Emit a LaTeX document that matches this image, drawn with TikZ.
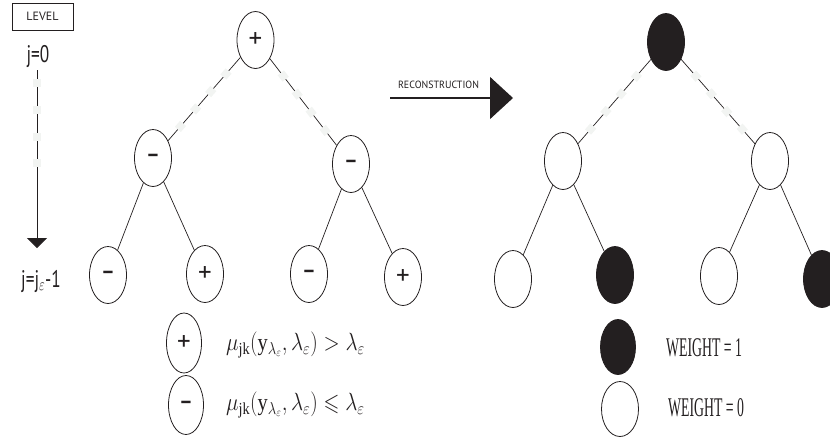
\documentclass[tikz,border=0pt]{standalone}
\usepackage{fontspec}
\usepackage{amssymb}
\usepackage{graphicx}
\setmainfont{Liberation Serif}
\setsansfont{PT Sans}
\usetikzlibrary{shapes.geometric,arrows.meta,decorations.markings}
\definecolor{ink}{HTML}{231F20}
\definecolor{gapc}{HTML}{F2F4F2}
\newcommand{\pl}{{\fontsize{27}{27}\selectfont +}}
\newcommand{\mi}{{\fontsize{21}{21}\selectfont\bfseries --}}
\begin{document}
\begin{tikzpicture}[x=1pt,y=-1pt,
  tn/.style={ellipse,draw=ink,line width=0.8pt,minimum width=37pt,minimum height=57pt,inner sep=0pt,font=\sffamily,text=ink},
  bn/.style={tn,fill=ink},
  wn/.style={tn,fill=white},
  solidedge/.style={draw=ink,line width=0.7pt},
  gapsq/.style={fill=gapc},
  gapedge/.style={solidedge,postaction={decorate},decoration={markings,
    mark=at position 0.2 with {\fill[gapsq] (-4pt,-4pt) rectangle (4pt,4pt);},
    mark=at position 0.41 with {\fill[gapsq] (-4pt,-4pt) rectangle (4pt,4pt);},
    mark=at position 0.62 with {\fill[gapsq] (-4pt,-4pt) rectangle (4pt,4pt);},
    mark=at position 0.83 with {\fill[gapsq] (-4pt,-4pt) rectangle (4pt,4pt);}}},
  lbl/.style={font=\sffamily\fontsize{24}{24}\selectfont,text=ink,inner sep=0pt},
  formula/.style={anchor=west,inner sep=0pt,text=ink,font=\fontsize{24}{24}\selectfont},
  wtxt/.style={anchor=west,inner sep=0pt,text=ink,font=\fontsize{27}{27}\selectfont}
]
\useasboundingbox (0,0) rectangle (830,437);

% level indicator
\node[draw=ink,line width=0.6pt,minimum width=61pt,minimum height=27pt,inner sep=0pt,
      font=\sffamily\fontsize{12}{12}\selectfont,text=ink] (lvl) at (42.5,16.5) {LEVEL};
\node[lbl] (j0) at (38,56) {\scalebox{0.72}[1]{j=0}};
\node[lbl] (jend) at (41,281) {\scalebox{0.72}[1]{j=j$_{\varepsilon}$-1}};
\coordinate (vtop) at (37,70);
\coordinate (vend) at (37,248);
\draw[ink,line width=0.8pt,-{Triangle[width=20pt,length=10pt]}] (vtop) -- (vend);
\foreach \yy in {83,110,137,163} \fill[gapsq] (33,\yy-4) rectangle (41,\yy+4);

% left tree
\node[tn] (L0) at (255.5,40) {\pl};
\node[tn] (L1a) at (153,158) {\mi};
\node[tn] (L1b) at (351,164) {\mi};
\node[tn] (L2a) at (108,275) {\mi};
\node[tn] (L2b) at (205,274) {\pl};
\node[tn] (L2c) at (309,274) {\mi};
\node[tn] (L2d) at (403,277) {\pl};
\draw[gapedge] (L0) -- (L1a);
\draw[gapedge] (L0) -- (L1b);
\draw[solidedge] (L1a) -- (L2a);
\draw[solidedge] (L1a) -- (L2b);
\draw[solidedge] (L1b) -- (L2c);
\draw[solidedge] (L1b) -- (L2d);

% reconstruction arrow
\coordinate (ra) at (390,98);
\coordinate (rb) at (513,98);
\draw[ink,line width=1.3pt,-{Triangle[width=42pt,length=23pt]}] (ra) -- (rb);
\node[font=\sffamily\fontsize{10.5}{10.5}\selectfont,text=ink,inner sep=0pt] (rl) at (438.5,84.5) {\scalebox{0.95}[1]{RECONSTRUCTION}};

% right tree
\node[bn] (R0) at (666,42) {};
\node[wn] (R1a) at (563,161) {};
\node[wn] (R1b) at (770,161) {};
\node[wn] (R2a) at (513,279) {};
\node[bn] (R2b) at (615,275) {};
\node[wn] (R2c) at (719,276) {};
\node[bn] (R2d) at (822,279) {};
\draw[gapedge] (R0) -- (R1a);
\draw[gapedge] (R0) -- (R1b);
\draw[solidedge] (R1a) -- (R2a);
\draw[solidedge] (R1a) -- (R2b);
\draw[solidedge] (R1b) -- (R2c);
\draw[solidedge] (R1b) -- (R2d);

% legend left
\node[tn,minimum width=35pt,minimum height=60pt] (P) at (184,343) {\pl};
\node[tn,minimum width=35pt,minimum height=59pt] (M) at (186,405) {\mi};
\node[formula] (f1) at (226,345) {\scalebox{0.85}[1]{$\mu_{\mathrm{jk}}(\mathrm{y}_{\lambda_\varepsilon},\lambda_\varepsilon) > \lambda_\varepsilon$}};
\node[formula] (f2) at (226,405) {\scalebox{0.85}[1]{$\mu_{\mathrm{jk}}(\mathrm{y}_{\lambda_\varepsilon},\lambda_\varepsilon) \leqslant \lambda_\varepsilon$}};

% legend right
\node[bn,minimum width=35pt,minimum height=55pt] (B) at (618,347) {};
\node[wn,minimum width=37pt,minimum height=55pt] (W) at (620,409) {};
\node[wtxt] (w1) at (666,348) {\scalebox{0.51}[1]{WEIGHT = 1}};
\node[wtxt] (w0) at (668,408) {\scalebox{0.51}[1]{WEIGHT = 0}};
\end{tikzpicture}
\end{document}
